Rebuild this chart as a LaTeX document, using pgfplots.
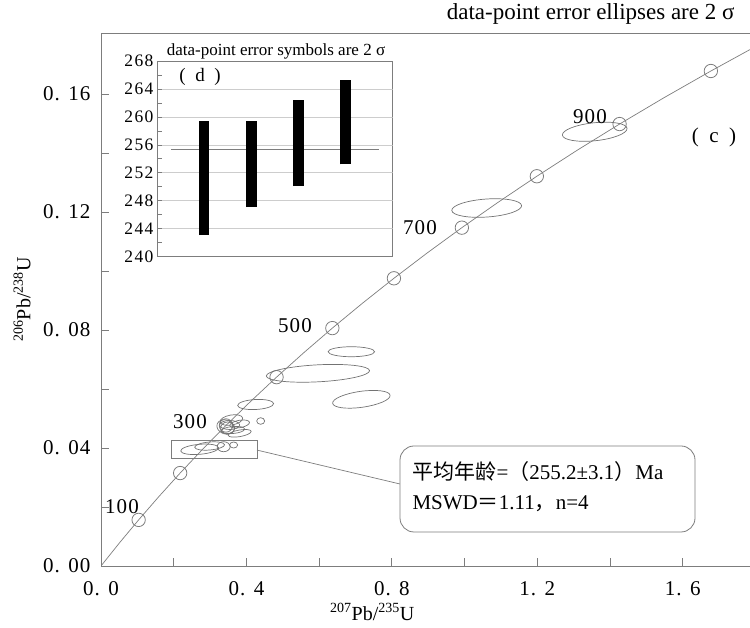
\documentclass[border=0pt]{standalone}
\usepackage{fontspec}
\setmainfont{Liberation Serif}
\newfontfamily\wide[LetterSpace=5]{Liberation Serif}
\newfontfamily\wider[LetterSpace=8]{Liberation Serif}
\newfontfamily\cjk{Noto Sans CJK SC}
\usepackage{pgfplots}
\pgfplotsset{compat=1.18}
\usepackage{pgfplotstable}
\definecolor{ln}{RGB}{125,125,125}
\definecolor{ellc}{RGB}{115,115,115}
\definecolor{grd}{RGB}{205,205,205}

% error ellipse: semi-axes \ea, \eb (pt), rotation \er (deg)
\pgfdeclareplotmark{errell}{%
  \pgfpathellipse{\pgfpointorigin}{\pgfpointpolar{\er}{\ea pt}}{\pgfpointpolar{\er+90}{\eb pt}}%
  \pgfusepathqstroke}

% concordia, t in Ma
\pgfplotstableread{
t x y
0 0 0
50 0.05048 0.00779
100 0.10350 0.01563
150 0.15920 0.02354
200 0.21771 0.03151
250 0.27918 0.03954
300 0.34374 0.04764
350 0.41156 0.05580
400 0.48281 0.06402
450 0.55766 0.07230
500 0.63628 0.08065
550 0.71887 0.08906
600 0.80563 0.09754
650 0.89677 0.10609
700 0.99251 0.11470
750 1.09308 0.12338
800 1.19873 0.13213
850 1.30971 0.14095
900 1.42630 0.14983
950 1.54876 0.15878
1000 1.67741 0.16781
1040 1.78499 0.17508
}\concordia

\pgfplotstableread{
x y
0.10350 0.01563
0.21771 0.03151
0.34374 0.04764
0.48281 0.06402
0.63628 0.08065
0.80563 0.09754
0.99251 0.11470
1.19873 0.13213
1.42630 0.14983
1.67741 0.16781
}\ages

% ellipses: centre, semi-axes a b (pt), rotation r
\pgfplotstableread{
x y a b r
0.6886 0.07264 23.3 5 0
0.5967 0.06532 51.7 8.5 3
0.7161 0.05651 29 8 8
0.4253 0.05475 18 5 3
0.3585 0.04949 11.5 5 10
0.3538 0.04780 10 4.5 0
0.3813 0.04814 10 3.7 10
0.4391 0.04915 4 3.3 0
0.3629 0.04610 11.7 3.5 5
0.3813 0.04498 11.7 3.3 10
0.3483 0.04678 7 6 0
0.3428 0.04712 9 7 -20
0.2713 0.03956 19 5 5
0.2988 0.04068 15 4 5
0.3373 0.04044 6.5 5 0
0.3648 0.04102 4 3 0
1.0608 0.12136 35 9 4
1.3579 0.14722 32.5 9 6
}\ellipses

\begin{document}
\begin{tikzpicture}
\begin{axis}[
  at={(101pt,62pt)}, anchor=south west,
  scale only axis, width=649pt, height=533pt,
  xmin=0, xmax=1.785, ymin=0, ymax=0.1807,
  axis line style={ln, line width=0.8pt},
  tick align=inside, xtick pos=left, ytick pos=left,
  major tick length=8pt,
  major tick style={draw=ln, line width=0.8pt},
  xtick={0,0.2,0.4,0.6,0.8,1.0,1.2,1.4,1.6},
  xticklabels={0.\hspace{0.4em}0,,0.\hspace{0.4em}4,,0.\hspace{0.4em}8,,1.\hspace{0.4em}2,,1.\hspace{0.4em}6},
  ytick={0,0.02,0.04,0.06,0.08,0.10,0.12,0.14,0.16},
  yticklabels={0.\hspace{0.4em}00,,0.\hspace{0.4em}04,,0.\hspace{0.4em}08,,0.\hspace{0.4em}12,,0.\hspace{0.4em}16},
  ticklabel style={font=\wide\fontsize{21}{21}\selectfont},
  xticklabel style={yshift=-12pt},
  yticklabel style={xshift=-7pt},
  xlabel={\textsuperscript{207}Pb/\textsuperscript{235}U},
  ylabel={\textsuperscript{206}Pb/\textsuperscript{238}U},
  label style={font=\fontsize{20}{20}\selectfont},
  x label style={at={(axis description cs:0.418,0)}, yshift=-46pt, anchor=center},
  y label style={at={(axis description cs:0,0.5)}, yshift=79pt, anchor=center},
]
\addplot[ln, line width=0.7pt] table[x=x,y=y] {\concordia};
\addplot[only marks, mark=o, mark size=6.7pt, mark options={ln, line width=0.8pt}]
  table[x=x,y=y] {\ages};
\addplot[scatter, only marks, mark=errell,
  point meta=\thisrow{a},
  visualization depends on={\thisrow{a} \as \ea},
  visualization depends on={\thisrow{b} \as \eb},
  visualization depends on={\thisrow{r} \as \er},
  scatter/use mapped color={draw=ellc, fill=none},
  mark options={line width=0.7pt}]
  table[x=x,y=y] {\ellipses};
\draw[ln, line width=0.7pt] (axis cs:0.1934,0.0365) rectangle (axis cs:0.4289,0.0427);
\coordinate (rr) at (axis cs:0.4289,0.0393);
% tick marks at the labelled positions
\pgfplotsinvokeforeach{0.4,0.8,1.2,1.6}{\draw[ln, line width=0.8pt] (axis cs:#1,0) -- ++(0pt,8pt);}
\pgfplotsinvokeforeach{0.04,0.08,0.12,0.16}{\draw[ln, line width=0.8pt] (axis cs:0,#1) -- ++(8pt,0pt);}
\end{axis}

\begin{axis}[
  at={(157pt,371.3pt)}, anchor=south west,
  scale only axis, width=235.7pt, height=195.7pt,
  xmin=0, xmax=5, ymin=240, ymax=268,
  xtick=\empty,
  ytick={240,242,...,268},
  yticklabels={240,,244,,248,,252,,256,,260,,264,,268},
  ytick pos=left, tick align=inside,
  major tick length=5pt,
  major tick style={draw=ln, line width=0.7pt},
  axis line style={ln, line width=0.7pt},
  yticklabel style={font=\wider\fontsize{17.5}{17.5}\selectfont},
]
\addplot[grd, line width=0.7pt] coordinates {(0,244) (5,244)};
\addplot[grd, line width=0.7pt] coordinates {(0,248) (5,248)};
\addplot[grd, line width=0.7pt] coordinates {(0,252) (5,252)};
\addplot[grd, line width=0.7pt] coordinates {(0,256) (5,256)};
\addplot[grd, line width=0.7pt] coordinates {(0,260) (5,260)};
\addplot[grd, line width=0.7pt] coordinates {(0,264) (5,264)};
\addplot[ln, line width=0.8pt] coordinates {(0.3,255.3) (4.7,255.3)};
\addplot[black, line width=10.7pt] coordinates {(1,243.1) (1,259.4)};
\addplot[black, line width=10.7pt] coordinates {(2,247.1) (2,259.4)};
\addplot[black, line width=10.7pt] coordinates {(3,250.1) (3,262.45)};
\addplot[black, line width=10.7pt] coordinates {(4,253.2) (4,265.35)};
\pgfplotsinvokeforeach{244,248,252,256,260,264}{\draw[ln, line width=0.7pt] (axis cs:0,#1) -- ++(5pt,0pt);}
\end{axis}

\node[anchor=east, font=\fontsize{23}{23}\selectfont] at (738pt,614pt) {data-point error ellipses are 2 σ};
\node[font=\fontsize{17}{17}\selectfont] at (276pt,577pt) {data-point error symbols are 2 σ};
\node[font=\fontsize{19}{19}\selectfont] at (200pt,551pt) {(\hspace{0.5em}d\hspace{0.5em})};
\node[font=\fontsize{21}{21}\selectfont] at (714pt,491pt) {(\hspace{0.5em}c\hspace{0.5em})};

\begin{scope}[every node/.style={font=\wide\fontsize{21}{21}\selectfont}]
\node at (122pt,121pt) {100};
\node at (190pt,206pt) {300};
\node at (295pt,302pt) {500};
\node at (420pt,400pt) {700};
\node at (590pt,511pt) {900};
\end{scope}

\draw[ln, line width=0.7pt] (rr) -- (400pt,144pt);
\draw[ln, line width=0.8pt, fill=white, rounded corners=14pt] (400pt,96pt) rectangle (695pt,182pt);
\node[anchor=west, font=\fontsize{21}{21}\selectfont] at (409pt,156pt)
  {{\cjk 平均年龄}={\cjk （}255.2±3.1{\cjk ）}Ma};
\node[anchor=west, font=\fontsize{21}{21}\selectfont] at (409pt,124pt)
  {MSWD{\cjk ＝}1.11{\cjk ，}n=4};

\pgfresetboundingbox
\path[use as bounding box] (0,0) rectangle (750pt,628pt);
\end{tikzpicture}
\end{document}
